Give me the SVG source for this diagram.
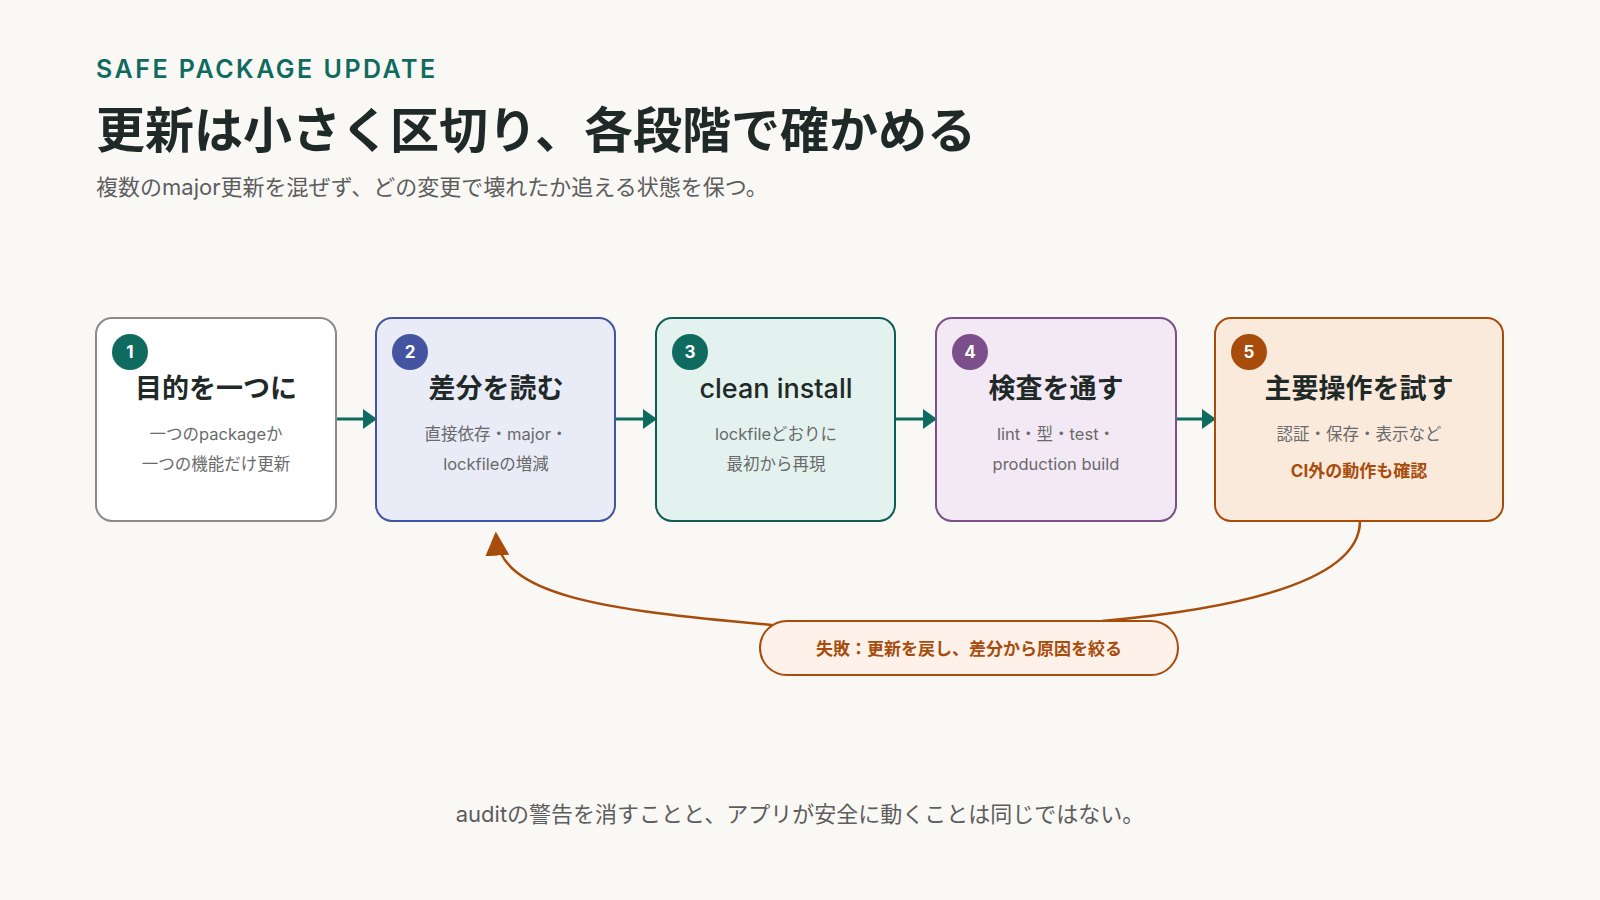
<svg xmlns="http://www.w3.org/2000/svg" width="1600" height="900" viewBox="0 0 1600 900">
<style>
text{font-family:Inter,"Noto Sans CJK JP",sans-serif}
.t{font-size:27px;font-weight:700;fill:#1f2a28;text-anchor:middle}
.s{font-size:16.5px;fill:#6a6a6a;text-anchor:middle}
.b{font-size:17px;font-weight:700;fill:#fff;text-anchor:middle}
.flow{stroke:#0f6b5f;stroke-width:3;fill:none}
</style>
<defs>
<marker id="ah" viewBox="0 0 14 20" refX="13" refY="10" markerWidth="14" markerHeight="20" orient="auto" markerUnits="userSpaceOnUse"><path d="M0,0 L14,10 L0,20 Z" fill="#0f6b5f"/></marker>
<marker id="ah2" viewBox="0 0 14 14" refX="12" refY="7" markerWidth="24" markerHeight="24" orient="auto" markerUnits="userSpaceOnUse"><path d="M0,0 L14,7 L0,14 Z" fill="#a84c0c"/></marker>
</defs>
<rect width="1600" height="900" fill="#f9f8f5"/>
<text x="96" y="78" style="font-size:25px;font-weight:600;fill:#0f6b5f;letter-spacing:2.5px">SAFE PACKAGE UPDATE</text>
<text x="96" y="148" style="font-size:49px;font-weight:700;fill:#1f2a28">更新は小さく区切り、各段階で確かめる</text>
<text x="96" y="195" style="font-size:22px;fill:#5d5d5d">複数のmajor更新を混ぜず、どの変更で壊れたか追える状態を保つ。</text>
<g id="connectors">
<path class="flow" d="M336 419 H376" marker-end="url(#ah)"/>
<path class="flow" d="M615 419 H656" marker-end="url(#ah)"/>
<path class="flow" d="M895 419 H936" marker-end="url(#ah)"/>
<path class="flow" d="M1176 419 H1215" marker-end="url(#ah)"/>
<path d="M1360 521 C1360 590 1200 612 1102 621" stroke="#a84c0c" stroke-width="2.5" fill="none"/>
<path d="M772 625 C600 610 500 595 496 535" stroke="#a84c0c" stroke-width="2.5" fill="none" marker-end="url(#ah2)"/>
</g>
<g id="n1"><rect x="96" y="318" width="240" height="203" rx="16" fill="#fff" stroke="#8a8a8a" stroke-width="2"/><circle cx="130" cy="352" r="18" fill="#0f6b5f"/><text class="b" x="130" y="358">1</text><text class="t" x="216" y="398">目的を一つに</text><text class="s" x="216" y="440">一つのpackageか</text><text class="s" x="216" y="470">一つの機能だけ更新</text></g>
<g id="n2"><rect x="376" y="318" width="239" height="203" rx="16" fill="#e9ebf7" stroke="#4454a0" stroke-width="2"/><circle cx="410" cy="352" r="18" fill="#4454a0"/><text class="b" x="410" y="358">2</text><text class="t" x="496" y="398">差分を読む</text><text class="s" x="496" y="440">直接依存・major・</text><text class="s" x="496" y="470">lockfileの増減</text></g>
<g id="n3"><rect x="656" y="318" width="239" height="203" rx="16" fill="#e3f2ee" stroke="#0f5e55" stroke-width="2"/><circle cx="690" cy="352" r="18" fill="#0f6b5f"/><text class="b" x="690" y="358">3</text><text class="t" x="776" y="398" style="font-weight:500">clean install</text><text class="s" x="776" y="440">lockfileどおりに</text><text class="s" x="776" y="470">最初から再現</text></g>
<g id="n4"><rect x="936" y="318" width="240" height="203" rx="16" fill="#f2e9f5" stroke="#7a4f8a" stroke-width="2"/><circle cx="970" cy="352" r="18" fill="#7a4f8a"/><text class="b" x="970" y="358">4</text><text class="t" x="1056" y="398">検査を通す</text><text class="s" x="1056" y="440">lint・型・test・</text><text class="s" x="1056" y="470">production build</text></g>
<g id="n5"><rect x="1215" y="318" width="288" height="203" rx="16" fill="#faeadc" stroke="#a84c0c" stroke-width="2"/><circle cx="1249" cy="352" r="18" fill="#a84c0c"/><text class="b" x="1249" y="358">5</text><text class="t" x="1359" y="398">主要操作を試す</text><text class="s" x="1359" y="440">認証・保存・表示など</text><text x="1359" y="477" style="font-size:17px;font-weight:700;fill:#a84c0c;text-anchor:middle">CI外の動作も確認</text></g>
<g id="fail"><rect x="760" y="621" width="418" height="54" rx="27" fill="#fdf1ea" stroke="#a84c0c" stroke-width="2"/><text x="969" y="655" style="font-size:17px;font-weight:700;fill:#a84c0c;text-anchor:middle">失敗：更新を戻し、差分から原因を絞る</text></g>
<text x="800" y="822" style="font-size:22px;fill:#5d5d5d;text-anchor:middle">auditの警告を消すことと、アプリが安全に動くことは同じではない。</text>
</svg>
